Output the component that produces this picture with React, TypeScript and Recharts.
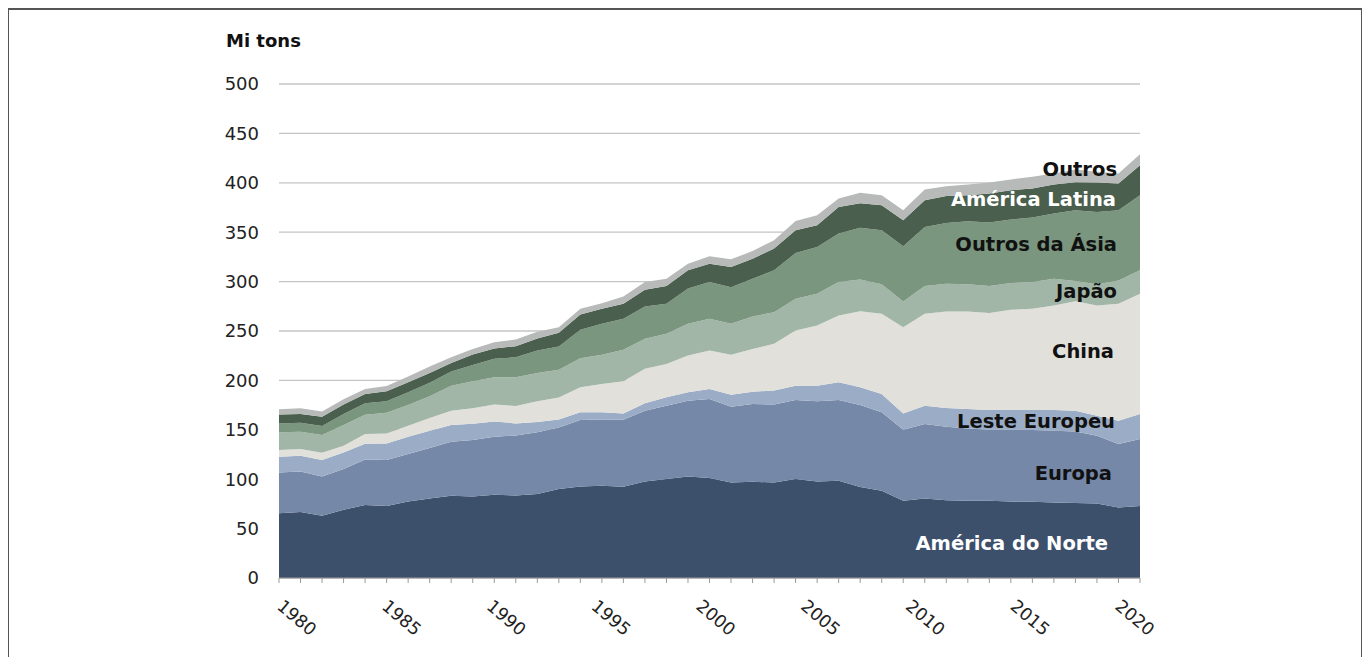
import React from 'react';
import { AreaChart, Area, XAxis, YAxis, CartesianGrid, ReferenceDot } from 'recharts';

const years = [1980,1981,1982,1983,1984,1985,1986,1987,1988,1989,1990,1991,1992,1993,1994,1995,1996,1997,1998,1999,2000,2001,2002,2003,2004,2005,2006,2007,2008,2009,2010,2011,2012,2013,2014,2015,2016,2017,2018,2019,2020];

const americaDoNorte = [65.6,66.9,62.9,69,74,73,77.4,80.4,83.2,82.5,84.2,83.5,84.9,90,92.6,93.3,92.3,97.7,100.1,102.7,101.1,96.7,97.4,96.7,100.1,97.7,98.4,92,88.2,78.1,80.4,78.8,78.1,78.1,77.4,77.1,76.4,75.8,75.4,71.3,73];
const europa = [41.2,40.9,39.8,41.2,46,46.4,48,51.1,54.7,57.2,58.8,60.8,62.5,62.4,67.3,67.2,67.9,71.7,74.3,76.8,80.1,76.7,78.8,78.8,80.1,81.1,81.8,83,79.5,72,75.5,74.3,73.3,72,72.7,72.7,72.7,72.6,68.6,64.3,67.7];
const lesteEuropeu = [15.9,15.9,16.7,16.9,15.9,16.8,17.6,17.6,17,16.5,15.5,12.2,10.5,8.1,7.8,7.2,6.4,7.4,8.5,8.4,10.2,12.2,12.4,14.2,14.5,15.9,17.9,18,18.6,16.5,18.5,19,19.7,20,20,20.3,21,21,20.3,23.6,25.3];
const china = [6.8,6.8,7.4,6.8,9.8,10.1,11.2,12.9,14.5,15.5,17,17.6,20.9,22.1,25.3,28.7,32.5,34.9,33.8,37.3,38.8,40.3,43.3,47.3,55.8,60.9,67.6,77,81.1,87.3,93,97.7,98.7,98,101.4,102.4,105.8,110.8,111.6,118.4,121.7];
const japao = [17.9,17.5,17.9,21,19.5,21,21,21.9,25.3,27.4,27.6,29,28.8,28.1,29.4,29.5,31.8,30.4,30.4,32.1,32.2,31.4,32.8,32.1,32.1,32.1,33.8,32,29.8,26,28.1,28.1,27.4,27.4,27,27,27,20.3,21.3,23.6,23.7];
const outrosDaAsia = [9.1,9.2,9.1,11.1,11.6,11.5,12.7,13.6,14.2,16.6,18.7,20.3,22.6,23.6,28.8,31.4,31.5,32.7,30.5,35.6,37.1,37.1,38.2,42.3,46.3,47.3,49.1,52.5,54.7,55.8,59.8,61.4,63.8,64.2,64.3,65.3,66,71.7,73.3,71,76];
const americaLatina = [9.1,8.8,9.5,9.5,9.5,10.2,10.2,10.1,8.8,10.5,10.5,11.2,12.2,13.9,15.5,15.2,15.2,17,17.9,18.5,18.6,20.3,20.3,22,23,22,27,24.8,25.4,26.4,27.1,27.4,26.4,29.5,29.7,29.4,29.4,28.4,29.8,27.1,30.4];
const outros = [5.1,5.7,5.1,5.3,5.1,5.4,5.8,6.4,5.7,5.7,6.3,6.8,6.8,5.7,5.8,5.7,7.4,7.8,7.4,6.7,7.5,7.8,7.7,8.4,9.5,10.1,8.5,10.7,10.1,10.1,10.8,9.9,10.9,11.1,10.9,11.8,11.1,12.9,10.8,10.1,11.2];

const yTicks = [0,50,100,150,200,250,300,350,400,450,500];
const xLabelYears = [1980,1985,1990,1995,2000,2005,2010,2015,2020];

const seriesNames = ['América do Norte','Europa','Leste Europeu','China','Japão','Outros da Ásia','América Latina','Outros'];
const seriesValues = [americaDoNorte, europa, lesteEuropeu, china, japao, outrosDaAsia, americaLatina, outros];
const seriesColors = ['#3c506c','#7588a8','#9badc6','#e2e0db','#a1b6a7','#7a967f','#4a5f4d','#b7bab9'];

// label placement (value-axis level and right inset) for the in-chart series names
const labelLevels = [35, 106, 158.4, 229.4, 290.3, 337.5, 383.6, 413.6];
const labelInsets = [31, 27, 24, 25, 22, 22, 23, 22];
const labelColors = ['#ffffff','#111111','#111111','#111111','#111111','#111111','#ffffff','#111111'];

const data = years.map((yr, i) => {
  const row: Record<string, number> = { year: yr };
  seriesNames.forEach((n, k) => { row[n] = seriesValues[k][i]; });
  return row;
});

const FONT = '"DejaVu Sans", Verdana, sans-serif';

const XTick = (props: any) => {
  const { x, y, payload } = props;
  if (!xLabelYears.includes(payload.value)) return null;
  const ax = x - 3 - 0.575 * (payload.value - 1980);
  const ay = y + 25;
  return (
    <text x={ax} y={ay} transform={`rotate(40, ${ax}, ${ay})`} fontSize={17.5} fill="#222" fontFamily={FONT} textAnchor="start">
      {payload.value}
    </text>
  );
};

export default function App() {
  return (
    <div style={{ position: 'relative', width: 1352, height: 660, borderTop: '2px solid #555', borderLeft: '1px solid #555', borderRight: '1px solid #555', boxSizing: 'content-box', fontFamily: FONT }}>
      <div style={{ position: 'absolute', left: 217, top: 20, fontSize: 18, fontWeight: 'bold', color: '#111', fontFamily: FONT, lineHeight: 'normal', whiteSpace: 'nowrap' }}>Mi tons</div>
      <AreaChart width={1352} height={648} data={data} margin={{ top: 74, right: 221, bottom: 20, left: 0 }}>
        <CartesianGrid horizontal={true} vertical={false} stroke="#c4c4c4" strokeWidth={1.3} />
        <XAxis
          dataKey="year"
          type="number"
          domain={[1980, 2020]}
          ticks={years}
          interval={0}
          height={60}
          tickSize={5}
          tickMargin={0}
          axisLine={{ stroke: '#9a9a9a' }}
          tickLine={{ stroke: '#9a9a9a' }}
          tick={<XTick />}
        />
        <YAxis
          type="number"
          domain={[0, 500]}
          ticks={yTicks}
          width={270}
          axisLine={false}
          tickLine={false}
          tickSize={0}
          tickMargin={20}
          tick={{ fontSize: 18, fill: '#222', fontFamily: FONT }}
        />
        {seriesNames.map((n, k) => (
          <Area key={n} type="linear" dataKey={n} stackId="1" stroke="none" fill={seriesColors[k]} fillOpacity={1} isAnimationActive={false} />
        ))}
        {seriesNames.map((n, k) => (
          <ReferenceDot
            key={'lbl' + n}
            x={2020}
            y={labelLevels[k]}
            r={1}
            fill="none"
            stroke="none"
            ifOverflow="visible"
            label={{ value: n, position: 'left', offset: labelInsets[k], fill: labelColors[k], fontSize: 19.5, fontWeight: 'bold', fontFamily: FONT }}
          />
        ))}
      </AreaChart>
    </div>
  );
}
